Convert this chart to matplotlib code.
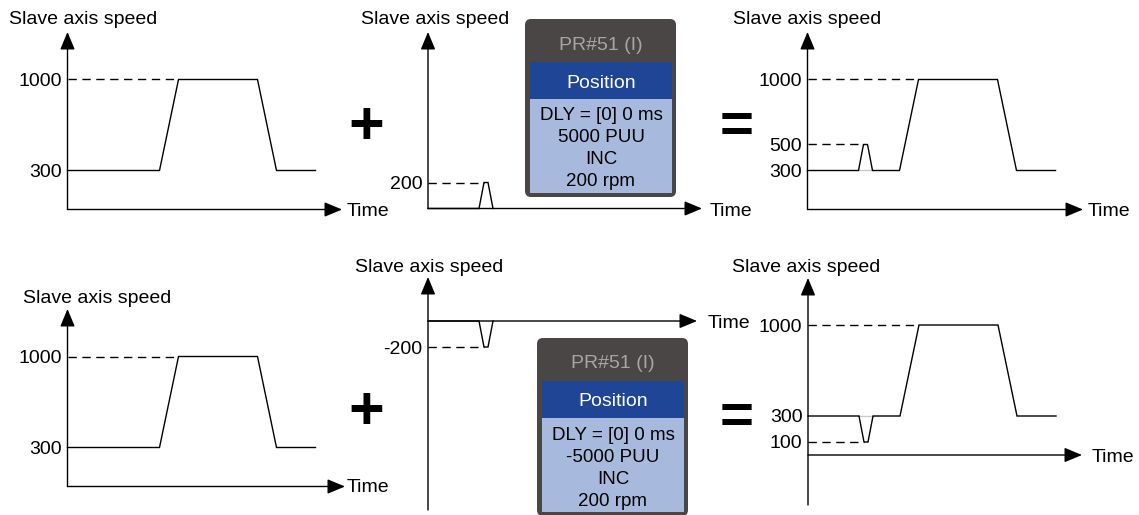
import matplotlib
matplotlib.use('Agg')
import matplotlib.pyplot as plt
from matplotlib.patches import FancyBboxPatch
from matplotlib.transforms import blended_transform_factory

plt.rcParams['font.family'] = ['Liberation Sans', 'DejaVu Sans']
plt.rcParams['lines.solid_joinstyle'] = 'miter'

# speed profiles (time in ms-like units, speed in rpm)
time_main = [0, 92, 111, 190, 209, 248]
speed_main = [300, 300, 1000, 1000, 300, 300]

time_pulse = [0, 51, 56, 60, 65]
speed_pulse_pos = [0, 0, 200, 200, 0]
speed_pulse_neg = [0, 0, -200, -200, 0]

time_sum = [0, 51, 56, 60, 65, 92, 111, 190, 209, 248]
speed_sum_pos = [300, 300, 500, 500, 300, 300, 1000, 1000, 300, 300]
speed_sum_neg = [300, 300, 100, 100, 300, 300, 1000, 1000, 300, 300]

axis_label = 'Slave axis speed'
time_label = 'Time'

box_title = 'PR#51 (I)'
box_mode = 'Position'
box1_lines = ['DLY = [0] 0 ms', '5000 PUU', 'INC', '200 rpm']
box2_lines = ['DLY = [0] 0 ms', '-5000 PUU', 'INC', '200 rpm']

W, H = 1139, 515
K = 0.13  # px per rpm

fig = plt.figure(figsize=(W / 100, H / 100), dpi=100)
canvas = fig.add_axes([0, 0, 1, 1])
canvas.set_xlim(0, W)
canvas.set_ylim(H, 0)
canvas.axis('off')


def panel(axis_x, y0, top, bottom, right):
    # axes whose left edge is the speed axis and whose bottom/top are the arrow ends
    ax = fig.add_axes([axis_x / W, 1 - bottom / H, (right - axis_x) / W, (bottom - top) / H])
    ax.set_xlim(0, right - axis_x)
    ax.set_ylim((y0 - bottom) / K, (y0 - top) / K)
    ax.axis('off')
    ax.patch.set_alpha(0)
    aprops = dict(arrowstyle='-|>,head_length=0.6,head_width=0.25', color='black',
                  lw=1.0, mutation_scale=18, shrinkA=0, shrinkB=0)
    ty = blended_transform_factory(ax.transData, ax.transAxes)
    tx = blended_transform_factory(ax.transAxes, ax.transData)
    ax.annotate('', xy=(0, 1), xytext=(0, 0), xycoords=ty, textcoords=ty, arrowprops=aprops)
    ax.annotate('', xy=(1, 0), xytext=(0, 0), xycoords=tx, textcoords=tx, arrowprops=aprops)
    return ax


def level(ax, val, t_end):
    ax.plot([0, t_end], [val, val], color='black', lw=1.0, dashes=(6, 4), clip_on=False)
    ax.annotate(str(val), xy=(0, val), xytext=(-4, 0), textcoords='offset points',
                ha='right', va='center_baseline', fontsize=14)


# top row
ax1 = panel(67.5, 209.5, 32, 209.5, 342)
ax1.plot(time_main, speed_main, color='black', lw=1.0, clip_on=False)
level(ax1, 1000, 111)
level(ax1, 300, 0)

ax2 = panel(428, 208.5, 32, 208.5, 702)
ax2.plot(time_pulse, speed_pulse_pos, color='black', lw=1.0, clip_on=False)
level(ax2, 200, 56)

ax3 = panel(807.5, 209.5, 32, 209.5, 1083)
ax3.plot([51, 65], [300, 300], color='#c8c8c8', lw=1.0)
ax3.plot(time_sum, speed_sum_pos, color='black', lw=1.0, clip_on=False)
level(ax3, 1000, 111)
level(ax3, 500, 56)
level(ax3, 300, 0)

# bottom row
ax4 = panel(67.5, 486.5, 309, 486.5, 345)
ax4.plot(time_main, speed_main, color='black', lw=1.0, clip_on=False)
level(ax4, 1000, 111)
level(ax4, 300, 0)

ax5 = panel(428, 321, 277, 510, 697)
ax5.plot(time_pulse, speed_pulse_neg, color='black', lw=1.0, clip_on=False)
level(ax5, -200, 56)

ax6 = panel(808, 455, 278, 505, 1082)
ax6.plot([51, 65], [300, 300], color='#c8c8c8', lw=1.0)
ax6.plot(time_sum, speed_sum_neg, color='black', lw=1.0, clip_on=False)
level(ax6, 1000, 111)
level(ax6, 300, 0)
level(ax6, 100, 56)

# axis captions
for x, y in [(83.5, 18), (435, 18), (807, 18), (97.5, 296.5), (429, 266), (806.5, 265)]:
    canvas.text(x, y, axis_label, ha='center', va='center_baseline', fontsize=14)
for x, y in [(347, 209), (710, 209), (1088, 209), (347, 486), (708, 322), (1092, 455)]:
    canvas.text(x, y, time_label, ha='left', va='center_baseline', fontsize=14)

# operators
for y in (122, 407):
    canvas.text(366, y, '+', ha='center', va='center_baseline', fontsize=44, fontweight='bold')
for y in (122, 413):
    canvas.text(737, y, '=', ha='center', va='center_baseline', fontsize=42, fontweight='bold')


def pr_box(left, top, right, bottom, lines):
    canvas.add_patch(FancyBboxPatch((left, top), right - left, bottom - top,
                                    boxstyle='round,pad=0,rounding_size=6',
                                    fc='#4a4645', ec='none'))
    il, ir = left + 5, right - 4
    canvas.add_patch(plt.Rectangle((il, top + 43), ir - il, 37, fc='#1f4596', ec='none'))
    canvas.add_patch(plt.Rectangle((il, top + 80), ir - il, bottom - top - 84, fc='#a7bade', ec='none'))
    cx = (il + ir) / 2
    canvas.text(cx, top + 24, box_title, ha='center', va='center_baseline', fontsize=14, color='#a6a6a6')
    canvas.text(cx, top + 62, box_mode, ha='center', va='center_baseline', fontsize=14, color='white')
    for i, line in enumerate(lines):
        canvas.text(cx, top + 95 + i * 22, line, ha='center', va='center_baseline',
                    fontsize=13.5, color='black')


pr_box(525, 19, 676, 197, box1_lines)
pr_box(537, 338, 688, 516, box2_lines)

fig.savefig('out.png', dpi=100)
